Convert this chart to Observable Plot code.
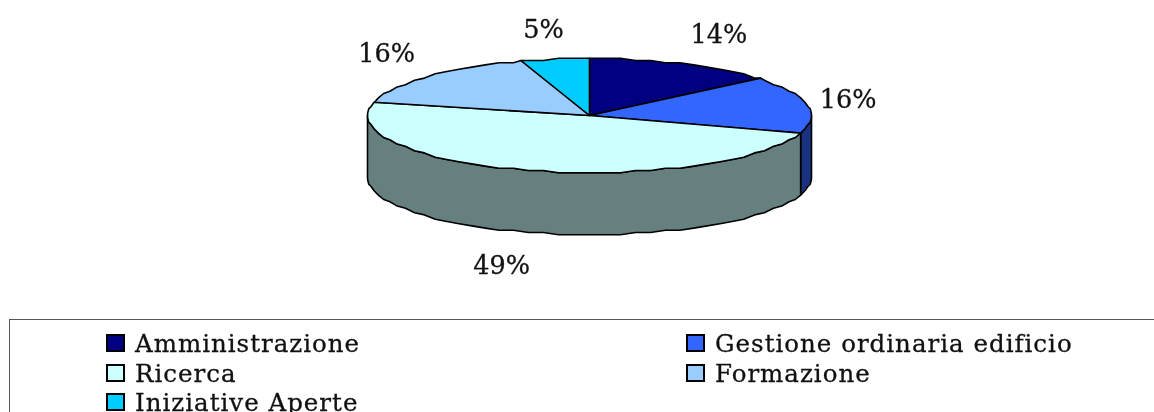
<!DOCTYPE html>
<html><head><meta charset="utf-8">
<script src="https://cdn.jsdelivr.net/npm/d3@7"></script>
<script src="https://cdn.jsdelivr.net/npm/@observablehq/plot@0.6"></script>
<style>
html,body{margin:0;padding:0;background:#fff;overflow:hidden;width:1154px;height:412px}
#chart svg{display:block;filter:blur(.35px)}
#legend{position:absolute;left:9px;top:319px;width:1160px;height:100px;box-sizing:border-box;border:1px solid #555;
 font-family:"DejaVu Serif",serif;font-size:24.5px;color:#111;-webkit-text-stroke:.3px #111;filter:blur(.3px)}
.item{position:absolute;white-space:nowrap;line-height:29px;height:29px;letter-spacing:1px}
.sw{position:absolute;left:-29px;top:5px;width:15px;height:14px;border:2px solid #000}
</style></head><body>
<div id="chart"></div><div id="legend"></div>
<script>
const categories = ["Amministrazione","Gestione ordinaria edificio","Ricerca","Formazione","Iniziative Aperte"];
const values = [14,16,49,16,5];
const colors = ["#000080","#3366ff","#ccffff","#99ccff","#00ccff"];
const wallColors = ["#000040","#1a3380","#668080","#4d6680","#006680"];

// Layout of the drawing
const W=1154,H=319,cx=589,cy=115,rx=222,ry=57,depth=62/ry;
const quant=2.2/ry, step=4*Math.PI/180;
const TAU=2*Math.PI;
const q=v=>Math.round(v/quant)*quant;
const pt=(t,drop=0)=>({x:Math.sin(t),y:q(Math.cos(t))-drop});
// arc samples share one angular grid, so that faces and walls have the same rim
function arc(a,b,drop=0){const lo=Math.min(a,b),hi=Math.max(a,b),ts=[lo];
  for(let k=Math.floor(lo/step)+1;k*step<hi;k++)ts.push(k*step);
  ts.push(hi);if(a>b)ts.reverse();return ts.map(t=>pt(t,drop));}

let acc=0;const total=d3.sum(values);
const slices=values.map((v,i)=>{const a=acc/total*TAU;acc+=v;return {cat:categories[i],v,a,b:acc/total*TAU,i};});

const topFaces=slices.flatMap(s=>{const p=[{x:0,y:0},...arc(s.a,s.b),{x:0,y:0}];return p.map(d=>({...d,cat:s.cat}));});
// visible side wall: portion of each slice between 90 and 270 degrees
const walls=slices.flatMap(s=>{const a=Math.max(s.a,TAU/4),b=Math.min(s.b,3*TAU/4);if(a>=b)return[];
  const p=[...arc(a,b),...arc(b,a,depth)];p.push(p[0]);return p.map(d=>({...d,key:s.i,fill:wallColors[s.i]}));});

// Percent labels sit outside the rim, in the pie's own units
const labelPos=[[.583,1.42],[1.165,.28],[-.396,-2.63],[-.914,1.09],[-.207,1.51]];
const labels=slices.map((s,i)=>({x:labelPos[i][0],y:labelPos[i][1],t:s.v+"%"}));

const plot=Plot.plot({width:W,height:H,margin:0,
  x:{domain:[-cx/rx,(W-cx)/rx],range:[0,W],axis:null},
  y:{domain:[(cy-H)/ry,cy/ry],range:[H,0],axis:null},
  color:{domain:categories,range:colors},
  marks:[
    Plot.line(walls,{x:"x",y:"y",z:"key",fill:"fill",stroke:"#000",strokeWidth:1.6}),
    Plot.line(topFaces,{x:"x",y:"y",z:"cat",fill:"cat",stroke:"#000",strokeWidth:1.6}),
    Plot.text(labels,{x:"x",y:"y",text:"t",fontFamily:"DejaVu Serif",fontSize:25.5,fill:"#111",stroke:"#111",strokeWidth:.3})
  ]});
document.getElementById("chart").append(plot);

const leg=document.getElementById("legend");
const colX=[125,705], rowY=[9,38.5,68];
categories.forEach((c,i)=>{const e=document.createElement("div");e.className="item";
  e.style.left=colX[i%2]+"px";e.style.top=rowY[Math.floor(i/2)]+"px";
  const s=document.createElement("span");s.className="sw";s.style.background=colors[i];e.append(s,c);
  leg.append(e);});
</script></body></html>
